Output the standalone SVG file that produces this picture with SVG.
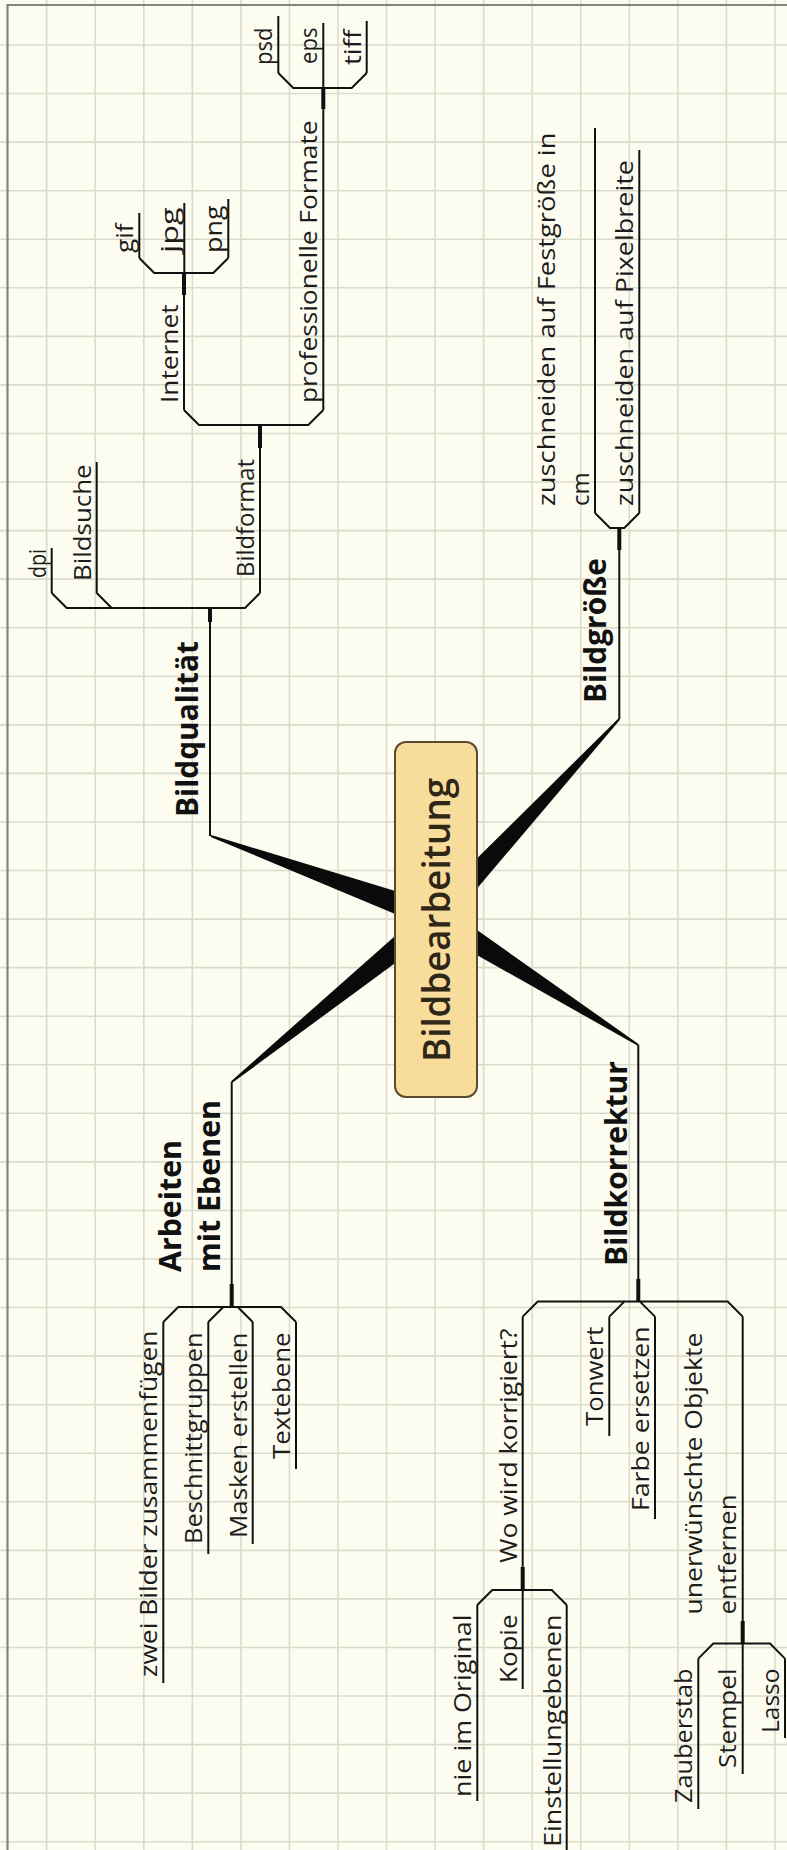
<svg xmlns="http://www.w3.org/2000/svg" width="787" height="1850" viewBox="0 0 787 1850">
<style>
.t{font-family:"Open Sans","Noto Sans","Liberation Sans",sans-serif;font-size:24px;font-weight:500;fill:#1c1c1c}
.m{font-weight:bold;font-size:30px;fill:#111}
.c{font-size:37px;font-weight:600;fill:#2e2616}
.ul{stroke:#111;stroke-width:2;fill:none}
.cn{stroke:#111;stroke-width:2;fill:none}
.stub{stroke:#111;stroke-width:4;fill:none}
.w{fill:#0a0a0a}
.grid{stroke:#dadccb;stroke-width:1.6;fill:none}
</style>
<rect x="0" y="0" width="787" height="1850" fill="#fcfcf0"/>
<g id="grid">
<path class="grid" d="M46.7,0V1850M95.25,0V1850M143.8,0V1850M192.35,0V1850M240.9,0V1850M289.45,0V1850M338,0V1850M386.55,0V1850M435.1,0V1850M483.65,0V1850M532.2,0V1850M580.75,0V1850M629.3,0V1850M677.85,0V1850M726.4,0V1850M774.95,0V1850"/>
<path class="grid" d="M0,45H787M0,93.56H787M0,142.12H787M0,190.68H787M0,239.24H787M0,287.8H787M0,336.36H787M0,384.92H787M0,433.48H787M0,482.04H787M0,530.6H787M0,579.16H787M0,627.72H787M0,676.28H787M0,724.84H787M0,773.4H787M0,821.96H787M0,870.52H787M0,919.08H787M0,967.64H787M0,1016.2H787M0,1064.76H787M0,1113.32H787M0,1161.88H787M0,1210.44H787M0,1259H787M0,1307.56H787M0,1356.12H787M0,1404.68H787M0,1453.24H787M0,1501.8H787M0,1550.36H787M0,1598.92H787M0,1647.48H787M0,1696.04H787M0,1744.6H787M0,1793.16H787M0,1841.72H787"/>
</g>
<path d="M7.5,1850V5H787" stroke="#85857c" stroke-width="2.2" fill="none"/>

<g id="connectors">
<polygon class="w" points="440.4,904.8 211.3,835.1 210.7,836.9 431.6,929.2"/>
<polygon class="w" points="444.2,927.1 232.3,1082.8 231.1,1081.2 427.8,906.9"/>
<polygon class="w" points="445.5,925.8 620,719.7 618.6,718.3 426.5,908.2"/>
<polygon class="w" points="429,928 637.8,1045.8 638.8,1044.2 443,906"/>
<path class="cn" d="M210,836V608M619.3,719V528M231.7,1082V1307M638.3,1045V1301.6"/>
<path class="cn" d="M51.7,593L66.7,608H245L260,593M96.7,593L111.7,608"/>
<path class="cn" d="M184,410L199,425H308.3L323.3,410"/>
<path class="cn" d="M139.3,258L154.3,273H213.3L228.3,258"/>
<path class="cn" d="M278.3,73L293.3,88H351.7L366.7,73"/>
<path class="cn" d="M595,513L610,528H624.3L639.3,513"/>
<path class="cn" d="M163.3,1322L178.3,1307H281L296,1322M208.3,1322L223.3,1307M252.7,1322L237.7,1307"/>
<path class="cn" d="M522.7,1316.6L537.7,1301.6H727.7L742.7,1316.6M609.3,1316.6L624.3,1301.6M655,1316.6L640,1301.6"/>
<path class="cn" d="M477.3,1605L492.3,1590H551.7L566.7,1605"/>
<path class="cn" d="M698.3,1658.6L713.3,1643.6H770L785,1658.6"/>
<path class="stub" d="M210,608V622M260,425V448M184,273V295M323.3,88V109M619.3,528V550M231.7,1307V1284M638.3,1301.6V1279M522.7,1590V1567M742.7,1643.6V1621"/>
</g>

<g id="n-center">
<rect x="395" y="742" width="82" height="355" rx="11" fill="#f8dc9c" stroke="#5b4a2e" stroke-width="2"/>
<text class="t c" transform="translate(450,1062) rotate(-90)" textLength="284" lengthAdjust="spacingAndGlyphs">Bildbearbeitung</text>
</g>

<g id="n-bildqualitaet"><text class="t m" transform="translate(198,817) rotate(-90)" textLength="176" lengthAdjust="spacingAndGlyphs">Bildqualität</text></g>
<g id="n-bildgroesse"><text class="t m" transform="translate(606,703) rotate(-90)" textLength="145" lengthAdjust="spacingAndGlyphs">Bildgröße</text></g>
<g id="n-ebenen">
<text class="t m" transform="translate(181,1272) rotate(-90)" textLength="132" lengthAdjust="spacingAndGlyphs">Arbeiten</text>
<text class="t m" transform="translate(220,1272) rotate(-90)" textLength="172" lengthAdjust="spacingAndGlyphs">mit Ebenen</text>
</g>
<g id="n-bildkorrektur"><text class="t m" transform="translate(627,1266) rotate(-90)" textLength="205" lengthAdjust="spacingAndGlyphs">Bildkorrektur</text></g>

<g id="n-dpi"><path class="ul" d="M51.7,548V593"/><text class="t" transform="translate(45.5,578) rotate(-90)" textLength="29" lengthAdjust="spacingAndGlyphs">dpi</text></g>
<g id="n-bildsuche"><path class="ul" d="M96.7,462V593"/><text class="t" transform="translate(90.5,581) rotate(-90)" textLength="116.5" lengthAdjust="spacingAndGlyphs">Bildsuche</text></g>
<g id="n-bildformat"><path class="ul" d="M260,425V593"/><text class="t" transform="translate(254,577) rotate(-90)" textLength="118" lengthAdjust="spacingAndGlyphs">Bildformat</text></g>
<g id="n-internet"><path class="ul" d="M184,273V410"/><text class="t" transform="translate(178,403) rotate(-90)" textLength="98.5" lengthAdjust="spacingAndGlyphs">Internet</text></g>
<g id="n-profi"><path class="ul" d="M323.3,88V410"/><text class="t" transform="translate(317,403) rotate(-90)" textLength="282.5" lengthAdjust="spacingAndGlyphs">professionelle Formate</text></g>
<g id="n-gif"><path class="ul" d="M139.3,213V258"/><text class="t" transform="translate(133,253) rotate(-90)" textLength="29.5" lengthAdjust="spacingAndGlyphs">gif</text></g>
<g id="n-jpg"><path class="ul" d="M184.3,203V273"/><text class="t" transform="translate(178,253) rotate(-90)" textLength="45.5" lengthAdjust="spacingAndGlyphs">jpg</text></g>
<g id="n-png"><path class="ul" d="M228.3,199V258"/><text class="t" transform="translate(222,253) rotate(-90)" textLength="47.5" lengthAdjust="spacingAndGlyphs">png</text></g>
<g id="n-psd"><path class="ul" d="M278.3,16V73"/><text class="t" transform="translate(272,65) rotate(-90)" textLength="37.5" lengthAdjust="spacingAndGlyphs">psd</text></g>
<g id="n-eps"><path class="ul" d="M323.3,23V88"/><text class="t" transform="translate(317,64) rotate(-90)" textLength="36.5" lengthAdjust="spacingAndGlyphs">eps</text></g>
<g id="n-tiff"><path class="ul" d="M366.7,21V73"/><text class="t" transform="translate(360.5,65) rotate(-90)" textLength="35.5" lengthAdjust="spacingAndGlyphs">tiff</text></g>

<g id="n-fest"><path class="ul" d="M595,128V513"/>
<text class="t" transform="translate(555,506) rotate(-90)" textLength="373.5" lengthAdjust="spacingAndGlyphs">zuschneiden auf Festgröße in</text>
<text class="t" transform="translate(588.5,506) rotate(-90)" textLength="33.5" lengthAdjust="spacingAndGlyphs">cm</text></g>
<g id="n-pixel"><path class="ul" d="M639.3,150V513"/><text class="t" transform="translate(633,506) rotate(-90)" textLength="346" lengthAdjust="spacingAndGlyphs">zuschneiden auf Pixelbreite</text></g>

<g id="n-zwei"><path class="ul" d="M163.3,1322V1683"/><text class="t" transform="translate(157,1677) rotate(-90)" textLength="346.5" lengthAdjust="spacingAndGlyphs">zwei Bilder zusammenfügen</text></g>
<g id="n-beschnitt"><path class="ul" d="M208.3,1322V1554"/><text class="t" transform="translate(202,1544) rotate(-90)" textLength="211.5" lengthAdjust="spacingAndGlyphs">Beschnittgruppen</text></g>
<g id="n-masken"><path class="ul" d="M252.7,1322V1544"/><text class="t" transform="translate(246.5,1538) rotate(-90)" textLength="205.5" lengthAdjust="spacingAndGlyphs">Masken erstellen</text></g>
<g id="n-textebene"><path class="ul" d="M296,1322V1469"/><text class="t" transform="translate(290,1459) rotate(-90)" textLength="126.5" lengthAdjust="spacingAndGlyphs">Textebene</text></g>

<g id="n-wo"><path class="ul" d="M522.7,1316.6V1590"/><text class="t" transform="translate(516.5,1563) rotate(-90)" textLength="234.5" lengthAdjust="spacingAndGlyphs">Wo wird korrigiert?</text></g>
<g id="n-tonwert"><path class="ul" d="M609.3,1316.6V1436"/><text class="t" transform="translate(603,1426) rotate(-90)" textLength="99.5" lengthAdjust="spacingAndGlyphs">Tonwert</text></g>
<g id="n-farbe"><path class="ul" d="M655,1316.6V1519"/><text class="t" transform="translate(649,1511) rotate(-90)" textLength="184.5" lengthAdjust="spacingAndGlyphs">Farbe ersetzen</text></g>
<g id="n-unerw"><path class="ul" d="M742.7,1316.6V1643.6"/>
<text class="t" transform="translate(702,1614.6) rotate(-90)" textLength="282" lengthAdjust="spacingAndGlyphs">unerwünschte Objekte</text>
<text class="t" transform="translate(736,1614.6) rotate(-90)" textLength="120.2" lengthAdjust="spacingAndGlyphs">entfernen</text></g>
<g id="n-nie"><path class="ul" d="M477.3,1605V1801"/><text class="t" transform="translate(471,1797) rotate(-90)" textLength="182.5" lengthAdjust="spacingAndGlyphs">nie im Original</text></g>
<g id="n-kopie"><path class="ul" d="M522.7,1590V1689"/><text class="t" transform="translate(516.5,1683) rotate(-90)" textLength="68.5" lengthAdjust="spacingAndGlyphs">Kopie</text></g>
<g id="n-einst"><path class="ul" d="M566.7,1605V1850"/><text class="t" transform="translate(560.5,1847) rotate(-90)" textLength="232.5" lengthAdjust="spacingAndGlyphs">Einstellungebenen</text></g>
<g id="n-zauberstab"><path class="ul" d="M698.3,1658.6V1809"/><text class="t" transform="translate(692,1803) rotate(-90)" textLength="134.5" lengthAdjust="spacingAndGlyphs">Zauberstab</text></g>
<g id="n-stempel"><path class="ul" d="M742.7,1643.6V1774"/><text class="t" transform="translate(736,1768) rotate(-90)" textLength="99.5" lengthAdjust="spacingAndGlyphs">Stempel</text></g>
<g id="n-lasso"><path class="ul" d="M785,1658.6V1738"/><text class="t" transform="translate(778.5,1733) rotate(-90)" textLength="64.5" lengthAdjust="spacingAndGlyphs">Lasso</text></g>
</svg>
